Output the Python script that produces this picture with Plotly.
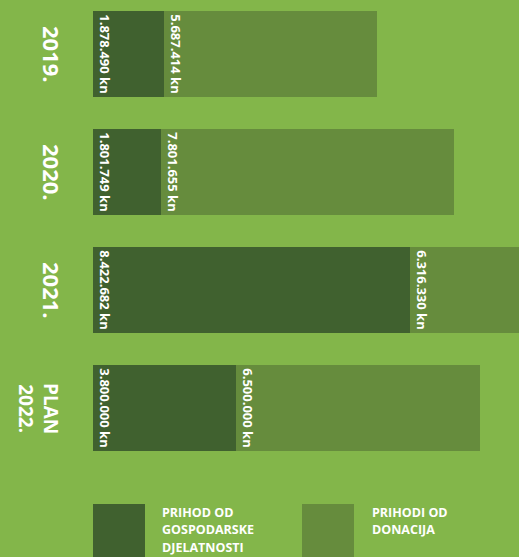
import plotly.graph_objects as go

years = ["2019.", "2020.", "2021.", "PLAN<br>2022."]
gospodarske = [1878490, 1801749, 8422682, 3800000]
donacije = [5687414, 7801655, 6316330, 6500000]
series_names = ["PRIHOD OD GOSPODARSKE DJELATNOSTI", "PRIHODI OD DONACIJA"]
legend_lines = [["PRIHOD OD", "GOSPODARSKE", "DJELATNOSTI"], ["PRIHODI OD", "DONACIJA"]]

BG = "#83b64a"
DARK = "#40612f"
LIGHT = "#668c3d"
FONT = "Open Sans"

def fmt(v):
    return f"{v:,}".replace(",", ".") + " kn"

cats = ["c0", "c1", "c2", "c3"]

fig = go.Figure()
for vals, col, name in [(gospodarske, DARK, series_names[0]), (donacije, LIGHT, series_names[1])]:
    fig.add_trace(go.Bar(
        y=cats, x=vals, orientation="h", name=name,
        marker=dict(color=col, line=dict(width=0)),
        text=[fmt(v) for v in vals], textposition="inside",
        insidetextanchor="start", textangle=90, constraintext="none",
        textfont=dict(family=FONT, size=13, color="white", weight="bold"),
        hoverinfo="skip", showlegend=False,
    ))

W, H = 519, 557
ml, mt, mb = 93, 0, 90
pw, ph = W - ml, H - mt - mb

def px(x):
    return (x - ml) / pw

def py(y):
    return (ph - (y - mt)) / ph

annotations = []
for i, lab in enumerate(years):
    annotations.append(dict(
        x=px(52) if i < 3 else px(39), xref="paper", y=cats[i], yref="y",
        text=lab, textangle=90, showarrow=False,
        xanchor="center", yanchor="middle",
        font=dict(family=FONT, size=22 if i < 3 else 19, color="white", weight="bold"),
    ))

shapes = []
for j, (x0, col) in enumerate([(93, DARK), (302, LIGHT)]):
    shapes.append(dict(type="rect", xref="paper", yref="paper",
                       x0=px(x0), x1=px(x0 + 52), y0=py(504), y1=py(560),
                       fillcolor=col, line=dict(width=0), layer="below"))
    tx = 160 if j == 0 else 370
    for k, line in enumerate(legend_lines[j]):
        annotations.append(dict(
            x=px(tx), y=py(512 + 17.5 * k), xref="paper", yref="paper",
            text=line, showarrow=False, xanchor="left", yanchor="middle",
            font=dict(family=FONT, size=12.5, color="white", weight="bold"),
        ))

fig.update_layout(
    width=W, height=H, barmode="stack", bargap=0.27,
    paper_bgcolor=BG, plot_bgcolor=BG,
    margin=dict(l=ml, r=0, t=mt, b=mb, pad=0),
    xaxis=dict(visible=False, range=[0, 11.33e6], fixedrange=True),
    yaxis=dict(visible=False, range=[3.5, -0.4576], categoryorder="array",
               categoryarray=cats, fixedrange=True),
    annotations=annotations, shapes=shapes,
)

fig.write_html(
    "out.html",
    config={"displayModeBar": False},
    post_script="document.body.style.margin='0';document.body.style.background='" + BG + "';",
)
